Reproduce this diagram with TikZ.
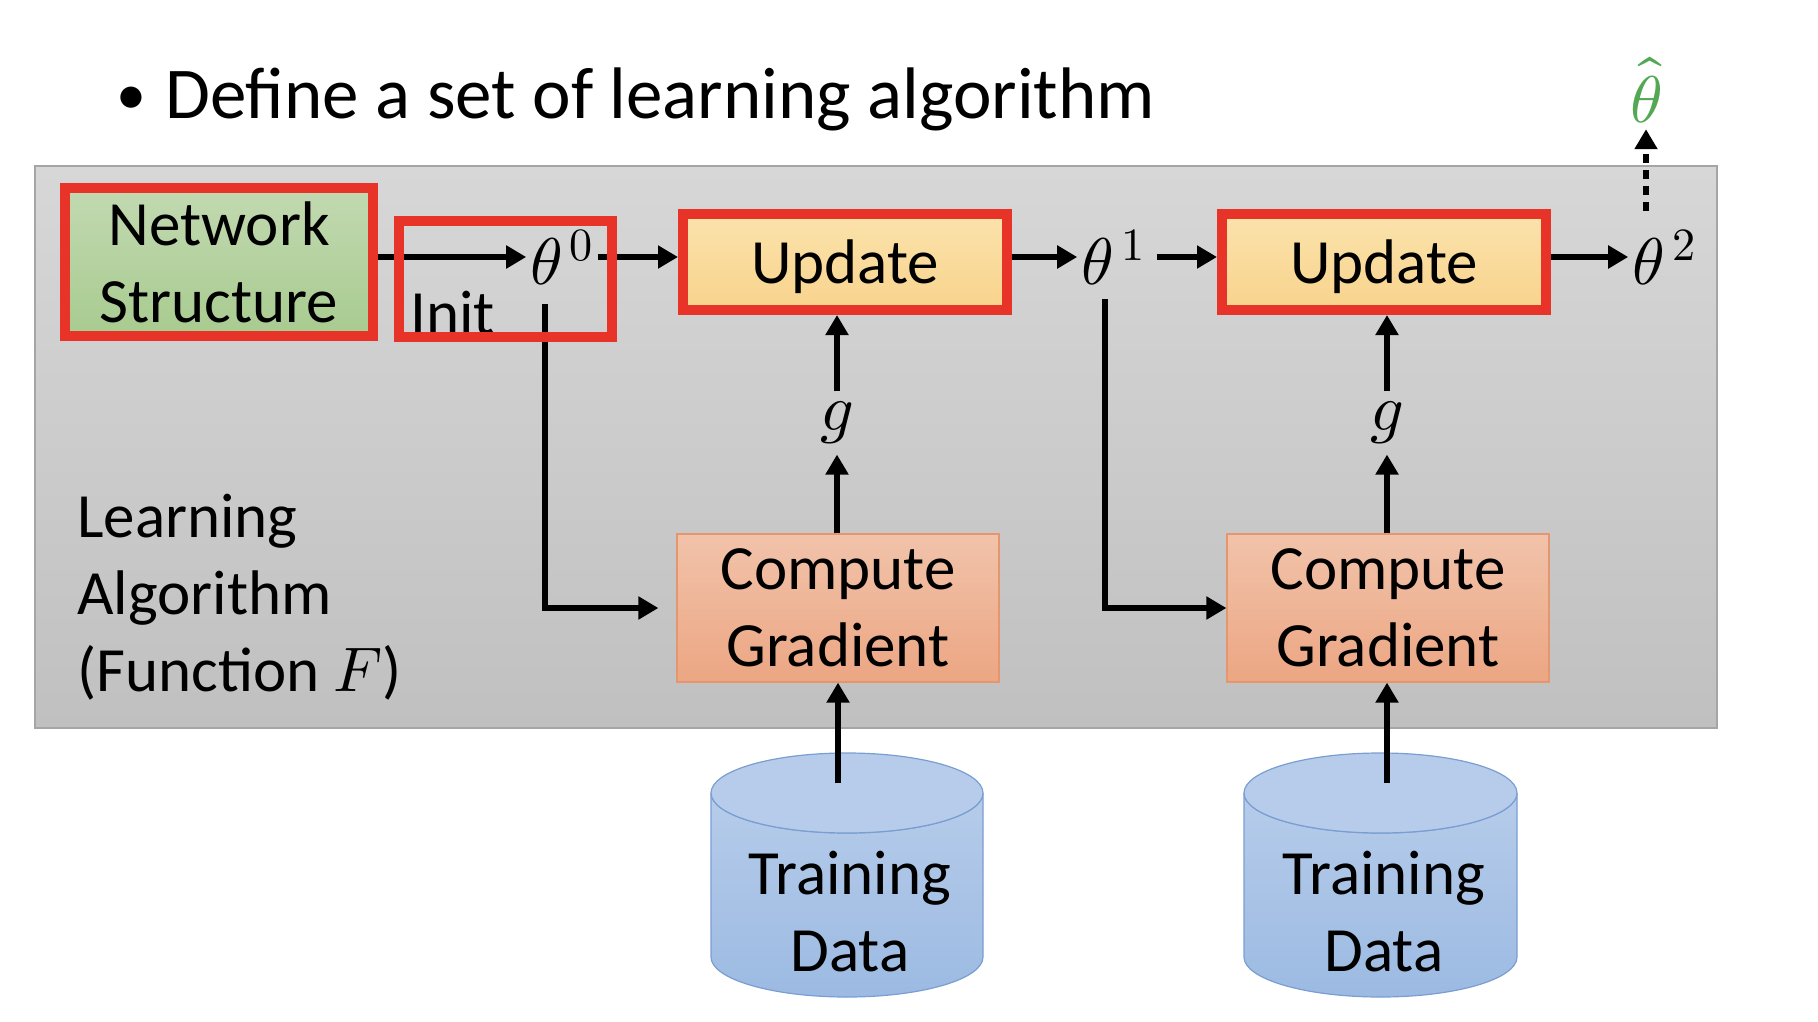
\documentclass[tikz,border=0pt]{standalone}
\usepackage{fontspec}
\usepackage{unicode-math}
\setmainfont{Carlito}
\usetikzlibrary{arrows.meta}
\definecolor{myred}{RGB}{232,52,40}
\definecolor{grtop}{RGB}{194,217,177}
\definecolor{grbot}{RGB}{168,203,143}
\definecolor{uptop}{RGB}{251,227,172}
\definecolor{upbot}{RGB}{248,211,140}
\definecolor{cgtop}{RGB}{241,195,170}
\definecolor{cgbot}{RGB}{236,166,131}
\definecolor{cgline}{RGB}{230,150,110}
\definecolor{cytop}{RGB}{182,204,234}
\definecolor{cybot}{RGB}{156,186,226}
\definecolor{cyline}{RGB}{122,158,210}
\definecolor{bgtop}{RGB}{215,215,215}
\definecolor{bgbot}{RGB}{192,192,192}
\definecolor{bgline}{RGB}{165,165,165}
\definecolor{hatgreen}{RGB}{84,168,84}
\tikzset{
  big/.style={font=\fontsize{63}{77}\selectfont},
  redframe/.style={draw=myred, line width=10pt, outer sep=5pt},
  nsbox/.style={redframe, top color=grtop, bottom color=grbot, minimum width=308pt, minimum height=148pt, inner sep=0pt, align=center, big},
  updbox/.style={redframe, top color=uptop, bottom color=upbot, minimum width=324pt, minimum height=96pt, inner sep=0pt, text depth=0pt, big},
  cgbox/.style={draw=cgline, line width=1.2pt, top color=cgtop, bottom color=cgbot, minimum width=322pt, minimum height=148pt, inner sep=0pt, align=center, big},
  mathlbl/.style={font=\fontsize{66}{77}\selectfont, inner sep=4pt},
  glbl/.style={font=\fontsize{66}{77}\selectfont, inner sep=10pt},
  arr/.style={line width=6pt, -{Triangle[length=20pt,width=22pt]}},
  cylbody/.style={draw=cyline, line width=1.2pt, top color=cytop, bottom color=cybot},
  cyltop/.style={draw=cyline, line width=1.2pt, fill=cytop},
}
\begin{document}
\begin{tikzpicture}[x=1pt,y=-1pt]
\useasboundingbox (0,0) rectangle (1818,1022);
% background panel
\path[draw=bgline, line width=1.5pt, top color=bgtop, bottom color=bgbot] (35,166) rectangle (1717,728);
% title
\node[anchor=base west, inner sep=0pt, font=\fontsize{73}{84}\selectfont] (title) at (116,119) {\makebox[49pt][l]{\fontsize{60}{60}\selectfont\raisebox{4pt}{•}}Define a set of learning algorithm};
% cylinders
\path[cylbody] (711,793) -- (711,957) arc[start angle=180, end angle=0, x radius=136, y radius=40] -- (983,793) arc[start angle=0, end angle=180, x radius=136, y radius=40] -- cycle;
\path[cyltop] (847,793) ellipse[x radius=136, y radius=40];
\path[cylbody] (1244,793) -- (1244,957) arc[start angle=180, end angle=0, x radius=136.5, y radius=40] -- (1517,793) arc[start angle=0, end angle=180, x radius=136.5, y radius=40] -- cycle;
\path[cyltop] (1380.5,793) ellipse[x radius=136.5, y radius=40];
\node[big, align=center, inner sep=0pt] (td1) at (850,912) {Training\\Data};
\node[big, align=center, inner sep=0pt] (td2) at (1384,912) {Training\\Data};
% boxes
\node[nsbox] (ns) at (219,262) {Network\\Structure};
\node[updbox] (up1) at (845,262) {Update};
\node[updbox] (up2) at (1384,262) {Update};
\node[cgbox] (cg1) at (838,608) {Compute\\Gradient};
\node[cgbox] (cg2) at (1388,608) {Compute\\Gradient};
% math labels
\node[mathlbl] (th0) at (562,257) {$\theta^{\,0}$};
\node[mathlbl] (th1) at (1113,257) {$\theta^{\,1}$};
\node[mathlbl] (th2) at (1664,257) {$\theta^{\,2}$};
\node[mathlbl, text=hatgreen] (thhat) at (1646,90) {$\hat{\theta}$};
\node[glbl] (g1) at (837,423) {$g$};
\node[glbl] (g2) at (1387,423) {$g$};
\node[big, anchor=base west, inner sep=0pt] (init) at (410,334) {Init};
\node[big, anchor=west, align=left, inner sep=0pt] (la) at (77,597) {Learning\\Algorithm\\(Function $F$)};
% coordinates for free ends
\coordinate (d0) at (545,304);
\coordinate (d1) at (1105,299);
\coordinate (c1) at (838,783);
\coordinate (c2) at (1387,783);
% horizontal arrows
\draw[arr] (ns.east |- th0.west) -- (th0.west);
\draw[arr] (th0.east) -- (up1.west |- th0.east);
\draw[arr] (up1.east |- th1.west) -- (th1.west);
\draw[arr, shorten <=8pt] (th1.east) -- (up2.west |- th1.east);
\draw[arr] (up2.east |- th2.west) -- (th2.west);
\draw[arr, dash pattern=on 9pt off 7pt, shorten <=14pt, shorten >=2pt] (thhat |- th2.north) -- (thhat.south);
% vertical arrows
\draw[arr] (g1 |- cg1.north) -- (g1.south);
\draw[arr] (g1.north) -- (g1 |- up1.south);
\draw[arr] (g2 |- cg2.north) -- (g2.south);
\draw[arr] (g2.north) -- (g2 |- up2.south);
\draw[arr] (c1) -- (c1 |- cg1.south);
\draw[arr] (c2) -- (c2 |- cg2.south);
% elbow connectors
\draw[arr, shorten >=18pt] (d0) |- (cg1.west);
\draw[arr] (d1) |- (cg2.west);
% init frame on top
\node[redframe, minimum width=213pt, minimum height=116pt, inner sep=0pt] (initbox) at (505.5,279) {};
\end{tikzpicture}
\end{document}
